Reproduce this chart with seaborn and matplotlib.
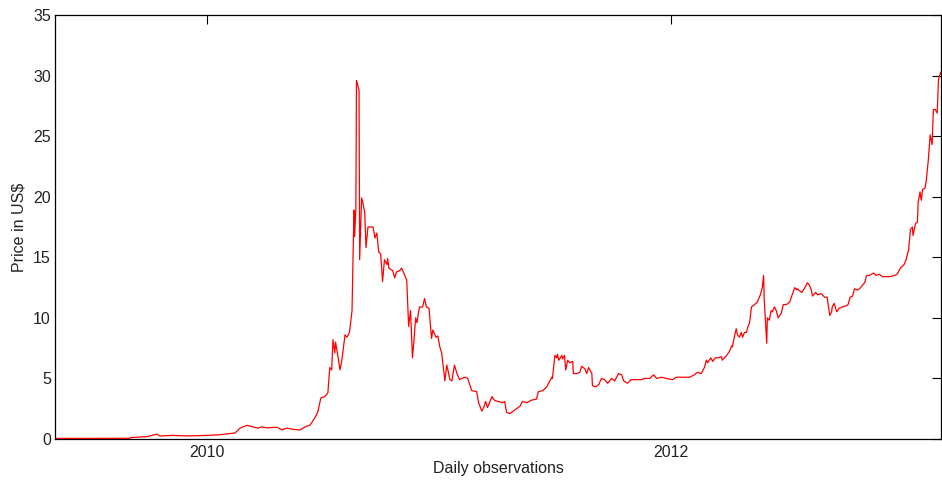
import matplotlib
matplotlib.use("Agg")
import matplotlib.pyplot as plt
import numpy as np
import pandas as pd
import seaborn as sns

# Daily observation number (days since the first observation) and price in US$
day = [0, 55, 118, 119, 145, 160, 165, 185, 207, 239, 259, 275, 283, 291, 302, 311,
       319, 325, 333, 349, 357, 364, 374, 385, 393, 401, 408, 413, 418, 424, 429,
       432, 435, 437, 440, 441, 445, 448, 451, 456, 459, 463, 467, 470, 471, 473,
       474, 478, 479, 482, 484, 487, 489, 492, 500, 503, 506, 509, 512, 515, 518,
       522, 523, 525, 531, 534, 537, 542, 545, 550, 553, 556, 559, 562, 564, 567,
       569, 573, 578, 581, 584, 588, 592, 594, 599, 602, 605, 608, 613, 616, 621,
       624, 628, 632, 636, 644, 649, 655, 663, 666, 671, 674, 677, 680, 687, 691,
       696, 704, 707, 710, 715, 723, 731, 735, 742, 749, 757, 760, 767, 773, 776,
       781, 782, 786, 789, 790, 792, 797, 798, 801, 803, 806, 809, 814, 815, 820,
       825, 828, 833, 836, 839, 844, 845, 850, 855, 859, 864, 869, 875, 880, 886,
       891, 894, 900, 906, 914, 922, 927, 935, 941, 946, 954, 961, 971, 977, 987,
       998, 1005, 1010, 1016, 1021, 1024, 1026, 1031, 1034, 1038, 1042, 1048, 1049,
       1056, 1060, 1064, 1065, 1068, 1071, 1073, 1076, 1079, 1081, 1084, 1087, 1089,
       1092, 1095, 1100, 1104, 1109, 1112, 1114, 1115, 1119, 1120, 1123, 1126, 1128,
       1131, 1134, 1137, 1142, 1145, 1150, 1155, 1159, 1163, 1166, 1167, 1174, 1178,
       1183, 1186, 1189, 1191, 1196, 1199, 1205, 1210, 1214, 1218, 1221, 1222, 1225,
       1229, 1233, 1238, 1244, 1247, 1250, 1254, 1257, 1261, 1265, 1268, 1273, 1276,
       1280, 1287, 1291, 1296, 1301, 1312, 1320, 1324, 1329, 1335, 1338, 1342, 1345,
       1348, 1349, 1353, 1356, 1357, 1360, 1362, 1364, 1368, 1370, 1373, 1376, 1379,
       1381, 1384, 1387, 1389, 1390, 1393]

price = [0.05, 0.05, 0.06, 0.12, 0.2, 0.4, 0.25, 0.3, 0.25, 0.3, 0.35, 0.45, 0.5, 0.9,
         1.13, 1.0, 0.9, 1.0, 0.92, 0.97, 0.75, 0.9, 0.8, 0.74, 1.0, 1.15, 1.7, 2.2,
         3.4, 3.5, 3.8, 5.9, 5.7, 8.2, 7.1, 8.0, 6.8, 5.7, 6.5, 8.6, 8.4, 8.8, 10.6,
         18.9, 16.7, 18.9, 29.6, 28.8, 14.8, 19.9, 19.5, 18.7, 15.8, 17.5, 17.5, 16.6,
         17.0, 15.4, 15.3, 13.0, 14.8, 14.4, 14.9, 14.1, 13.9, 13.3, 13.8, 13.9, 14.1,
         13.5, 13.1, 9.3, 10.6, 6.7, 7.9, 10.0, 9.6, 10.9, 10.9, 11.6, 10.9, 10.8, 8.3,
         9.0, 8.4, 8.5, 7.6, 7.1, 4.8, 6.1, 4.9, 4.8, 6.1, 5.4, 4.9, 5.1, 5.0, 4.0,
         3.9, 3.0, 2.3, 2.6, 3.1, 2.6, 3.5, 3.2, 3.1, 3.0, 3.1, 2.2, 2.1, 2.4, 2.7,
         3.1, 3.0, 3.2, 3.3, 3.9, 4.0, 4.3, 4.6, 5.1, 5.0, 6.9, 6.7, 7.0, 6.5, 6.9,
         6.6, 6.9, 5.7, 6.5, 6.3, 6.4, 5.4, 5.4, 5.5, 6.0, 5.8, 5.4, 5.9, 5.4, 4.4,
         4.3, 4.5, 5.0, 4.9, 4.6, 5.0, 4.8, 5.4, 5.3, 4.8, 4.6, 4.9, 4.9, 4.9, 5.0,
         5.0, 5.3, 5.0, 5.1, 5.0, 4.9, 5.1, 5.1, 5.1, 5.3, 5.5, 5.4, 5.9, 6.5, 6.3,
         6.7, 6.4, 6.7, 6.7, 6.8, 6.5, 6.9, 7.2, 7.7, 7.6, 8.4, 9.1, 8.6, 8.4, 8.8,
         8.4, 8.8, 8.8, 9.2, 9.6, 10.9, 11.1, 11.3, 11.9, 12.5, 13.5, 11.6, 7.9, 10.0,
         9.8, 10.6, 10.5, 10.9, 10.6, 10.0, 10.4, 11.1, 11.1, 11.3, 11.9, 12.5, 12.3,
         12.4, 12.1, 12.4, 12.9, 12.7, 12.3, 11.8, 12.1, 11.9, 12.0, 11.7, 11.7, 10.2,
         10.5, 10.9, 11.2, 10.5, 10.8, 10.9, 11.0, 11.1, 11.7, 11.8, 12.4, 12.3, 12.4,
         12.6, 12.9, 13.5, 13.5, 13.7, 13.5, 13.6, 13.4, 13.4, 13.5, 13.6, 14.1, 14.4,
         14.8, 15.6, 17.3, 17.5, 16.8, 17.8, 17.9, 19.5, 20.4, 19.7, 20.6, 20.7, 21.4,
         23.0, 25.1, 24.3, 27.2, 27.2, 26.9, 29.6, 29.9, 30.3]

start_date = "2009-05-07"
tick_dates = ["2010-01-01", "2012-01-01"]
tick_labels = ["2010", "2012"]
y_ticks = [0, 5, 10, 15, 20, 25, 30, 35]

df = pd.DataFrame({
    "date": pd.Timestamp(start_date) + pd.to_timedelta(day, unit="D"),
    "price": price,
})

sns.set_style("white")
plt.rcParams["font.family"] = ["Liberation Sans", "DejaVu Sans"]
text_color = "#222222"

fig = plt.figure(figsize=(9.42, 4.82), dpi=100)
ax = fig.add_axes([55 / 942, 1 - 439 / 482, 886 / 942, 424 / 482])

sns.lineplot(data=df, x="date", y="price", color="#ff0000", linewidth=0.9, ax=ax)

ax.set_xlim(df["date"].iloc[0], df["date"].iloc[-1])
ax.set_ylim(0, 35)
ax.set_yticks(y_ticks)
ax.set_xticks(pd.to_datetime(tick_dates))
ax.set_xticklabels(tick_labels)

ax.tick_params(axis="both", which="both", direction="in", length=6.5, width=0.8,
               color="black", labelcolor=text_color, labelsize=11.5,
               top=True, right=True, labeltop=False, labelright=False)
ax.tick_params(axis="y", pad=3)
ax.tick_params(axis="x", pad=4)
for s in ax.spines.values():
    s.set_color("black")
    s.set_linewidth(0.9)
    s.set_visible(True)

ax.set_xlabel("Daily observations", fontsize=11.5, labelpad=1, color=text_color)
ax.set_ylabel(r"Price in US\$", fontsize=11.5, labelpad=5, color=text_color)
ax.grid(False)

fig.savefig("out.png", dpi=100, facecolor="white")
